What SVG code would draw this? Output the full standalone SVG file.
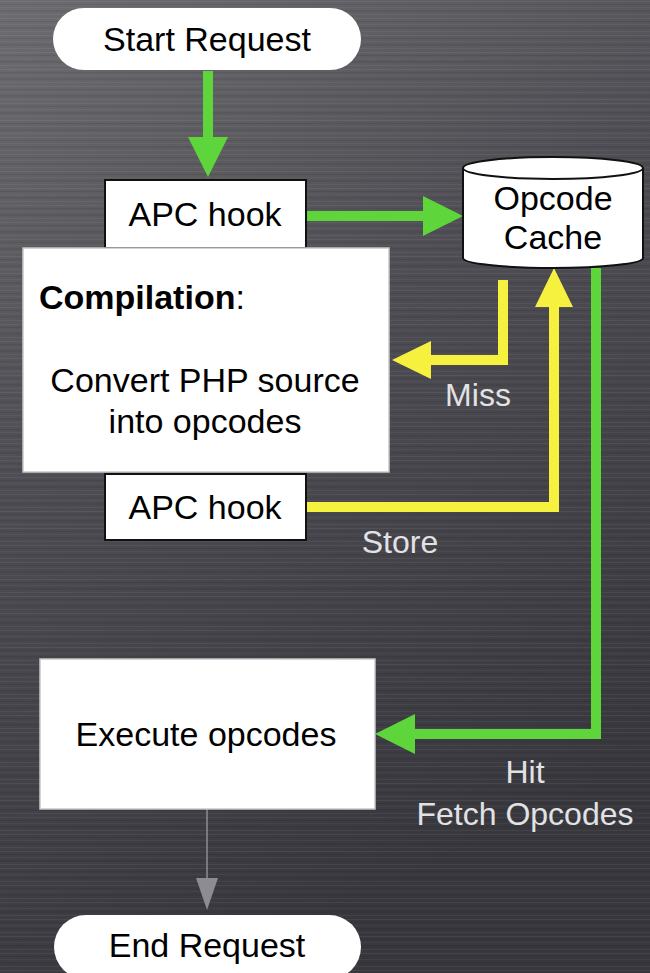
<svg xmlns="http://www.w3.org/2000/svg" width="650" height="973" viewBox="0 0 650 973">
  <defs>
    <linearGradient id="bg" x1="0" y1="0" x2="0.35" y2="1">
      <stop offset="0" stop-color="#6d6d71"/>
      <stop offset="0.45" stop-color="#4d4d53"/>
      <stop offset="1" stop-color="#37373d"/>
    </linearGradient>
    <pattern id="brush" width="650" height="17" patternUnits="userSpaceOnUse">
      <rect x="0" y="1" width="650" height="1" fill="#ffffff" opacity="0.06"/>
      <rect x="0" y="4" width="650" height="1" fill="#000000" opacity="0.08"/>
      <rect x="0" y="7" width="650" height="1" fill="#ffffff" opacity="0.04"/>
      <rect x="0" y="10" width="650" height="2" fill="#000000" opacity="0.06"/>
      <rect x="0" y="14" width="650" height="1" fill="#ffffff" opacity="0.05"/>
    </pattern>
    <marker id="headG" markerUnits="userSpaceOnUse" markerWidth="40" markerHeight="40" refX="0" refY="20" orient="auto">
      <path d="M0,0 L40,20 L0,40 Z" fill="#5ed53b"/>
    </marker>
    <marker id="headY" markerUnits="userSpaceOnUse" markerWidth="40" markerHeight="40" refX="0" refY="20" orient="auto">
      <path d="M0,1 L39,20 L0,39 Z" fill="#f6f13f"/>
    </marker>
    <marker id="headGray" markerUnits="userSpaceOnUse" markerWidth="32" markerHeight="22" refX="0" refY="11" orient="auto">
      <path d="M0,0 L32,11 L0,22 Z" fill="#8c8c92"/>
    </marker>
  </defs>
  <style>
    .txt { font-family: "Liberation Sans", Arial, Helvetica, sans-serif; font-size: 34px; fill: #000; text-anchor: middle; }
    .lbl { font-family: "Liberation Sans", Arial, Helvetica, sans-serif; font-size: 32px; fill: #e2e2e4; text-anchor: middle; }
    .box { fill: #ffffff; stroke: #111; stroke-width: 2; }
    .soft { fill: #ffffff; stroke: #c8c8c8; stroke-width: 1.5; }
    .pill { fill: #ffffff; }
    .g { fill: none; stroke: #5ed53b; stroke-width: 10; stroke-linejoin: miter; marker-end: url(#headG); }
    .y { fill: none; stroke: #f6f13f; stroke-width: 10; stroke-linejoin: miter; marker-end: url(#headY); }
    .gray { fill: none; stroke: #8c8c92; stroke-width: 1.5; marker-end: url(#headGray); }
  </style>

  <rect x="0" y="0" width="650" height="973" fill="url(#bg)"/>
  <rect x="0" y="0" width="650" height="973" fill="url(#brush)"/>

  <g id="connectors">
    <path class="g" d="M208,71 V137"/>
    <path class="g" d="M306,216 H423"/>
    <path class="y" d="M503,280 V360 H431"/>
    <path class="y" d="M306,507 H554 V307"/>
    <path class="g" d="M596,268 V734 H415"/>
    <path class="gray" d="M207,809 V878"/>
  </g>

  <g id="start">
    <rect class="pill" x="53" y="8" width="308" height="62" rx="31" ry="31"/>
    <text class="txt" x="207" y="51">Start Request</text>
  </g>

  <g id="apc1">
    <rect class="box" x="105" y="180" width="201" height="68"/>
    <text class="txt" x="205" y="226">APC hook</text>
  </g>

  <g id="cache">
    <path class="box" d="M463,168 A90,11 0 0 1 643,168 V258 A90,10 0 0 1 463,258 Z"/>
    <path d="M463,168 A90,11 0 0 0 643,168" fill="none" stroke="#111" stroke-width="2"/>
    <text class="txt" x="553" y="210">Opcode</text>
    <text class="txt" x="553" y="249">Cache</text>
  </g>

  <g id="compilation">
    <rect class="soft" x="23" y="248" width="366" height="224"/>
    <text x="39" y="309" style="font-family: 'Liberation Sans', Arial, sans-serif; font-size: 34px; fill: #000;"><tspan font-weight="bold">Compilation</tspan>:</text>
    <text class="txt" x="205" y="392">Convert PHP source</text>
    <text class="txt" x="205" y="433">into opcodes</text>
  </g>

  <g id="apc2">
    <rect class="box" x="105" y="474" width="201" height="66"/>
    <text class="txt" x="205" y="519">APC hook</text>
  </g>

  <g id="execute">
    <rect class="soft" x="40" y="659" width="335" height="150"/>
    <text class="txt" x="206" y="746">Execute opcodes</text>
  </g>

  <g id="end">
    <rect class="pill" x="54" y="915" width="307" height="64" rx="32" ry="32"/>
    <text class="txt" x="207" y="957">End Request</text>
  </g>

  <g id="labels">
    <text class="lbl" x="478" y="406">Miss</text>
    <text class="lbl" x="400" y="553">Store</text>
    <text class="lbl" x="525" y="783">Hit</text>
    <text class="lbl" x="525" y="825">Fetch Opcodes</text>
  </g>
</svg>
